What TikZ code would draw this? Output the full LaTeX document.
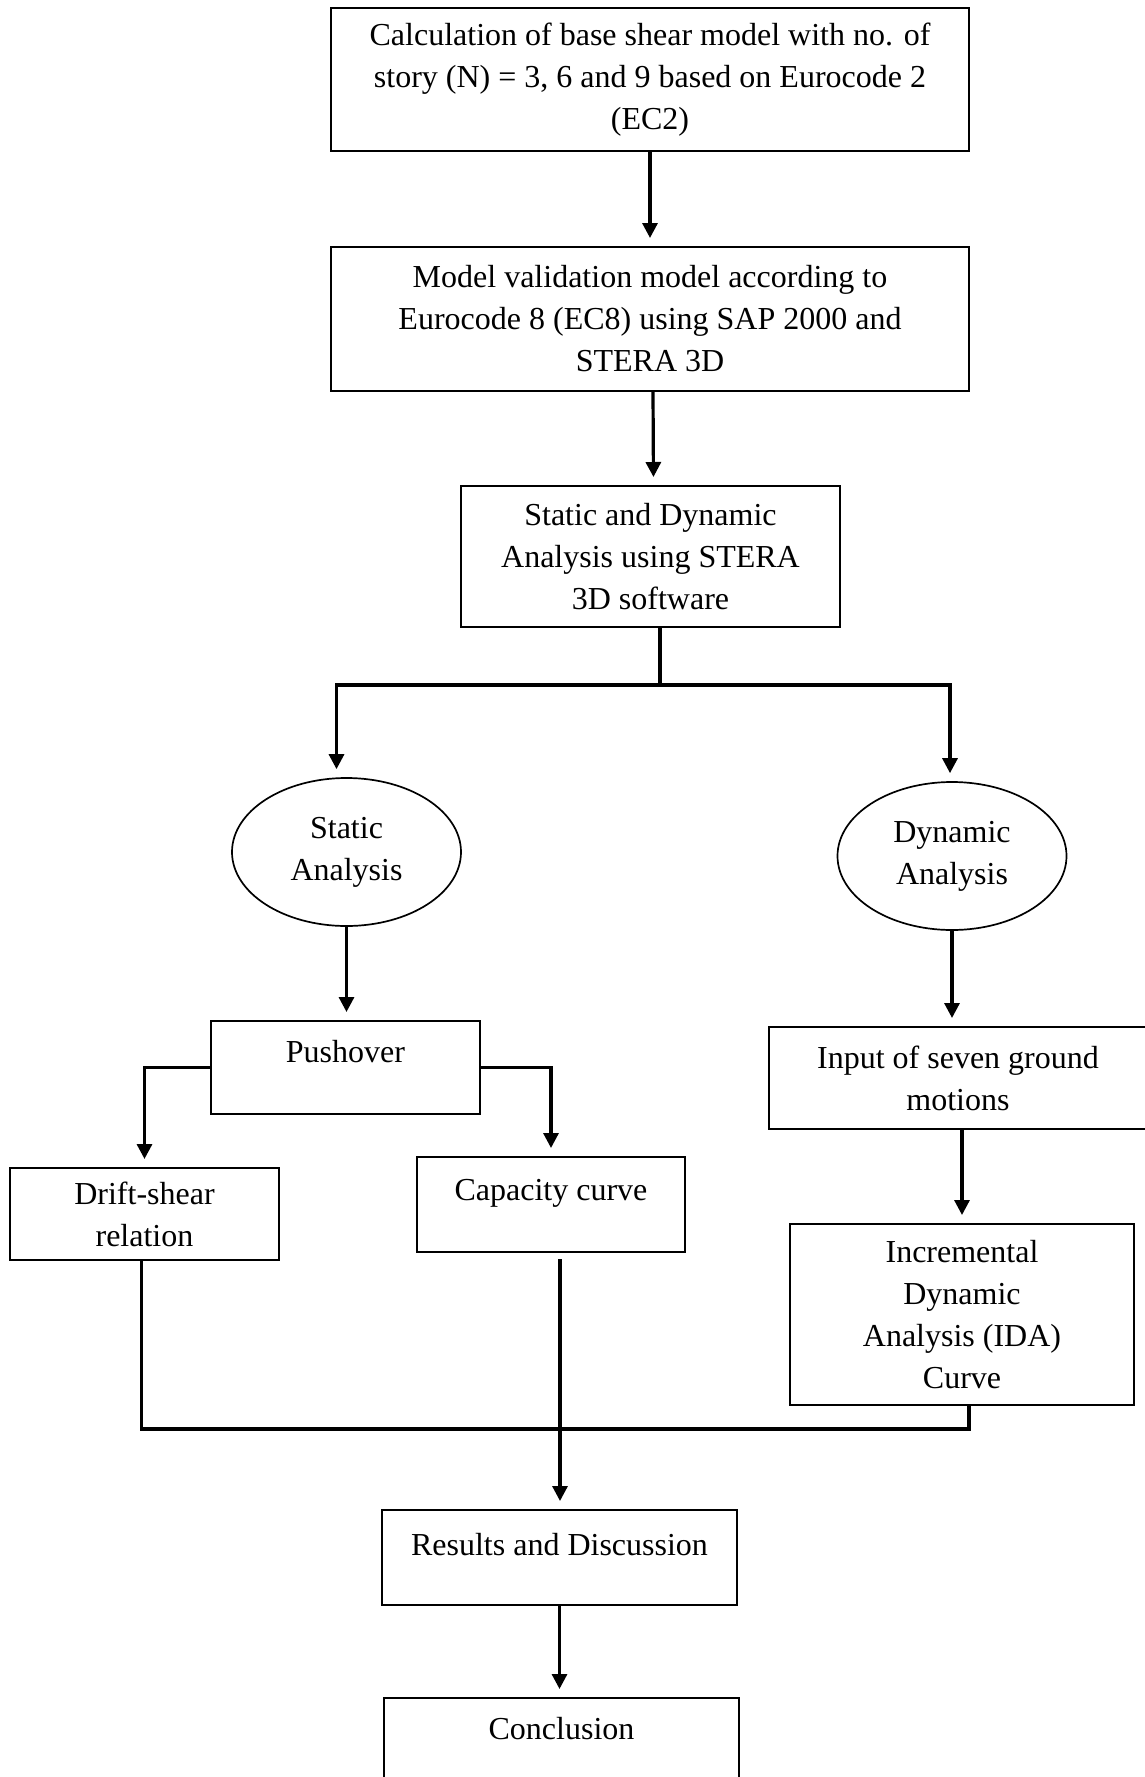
\documentclass[tikz,border=0pt]{standalone}
\usepackage{fontspec}
\setmainfont{Liberation Serif}
\usetikzlibrary{shapes.geometric,arrows.meta}
\begin{document}
\begin{tikzpicture}[x=0.5pt,y=-0.5pt,
  every node/.style={font=\fontsize{16}{21}\selectfont, align=center, inner sep=0pt},
  box/.style={draw, line width=1pt, rectangle},
  oval/.style={draw, line width=0.85pt, ellipse},
  arr/.style={line width=1.6pt, -{Triangle[length=7.5pt,width=7.5pt]}, shorten >=4pt},
  link/.style={line width=1.6pt},
  merge/.style={line width=1.8pt}]
\clip (0,0) rectangle (1145,1777);
\fill[white] (0,0) rectangle (1145,1777);
% boxes
\node[box, minimum width=319pt, minimum height=71.5pt] (b1) at (650,79.5)
  {Calculation of base shear model with no. of\\ story (N) = 3, 6 and 9 based on Eurocode 2\\ (EC2)};
\node[box, minimum width=319pt, minimum height=72pt] (b2) at (650,319)
  {Model validation model according to\\ Eurocode 8 (EC8) using SAP 2000 and\\ STERA 3D};
\node[box, minimum width=189.5pt, minimum height=70.5pt] (b3) at (650.5,556.5)
  {Static and Dynamic\\ Analysis using STERA\\ 3D software};
\node[oval, minimum width=114.5pt, minimum height=74pt] (stat) at (346.5,852) {Static\\ Analysis};
\node[oval, minimum width=114.5pt, minimum height=74pt] (dyn) at (952,856) {Dynamic\\ Analysis};
\node[box, minimum width=134.5pt, minimum height=46.5pt] (push) at (345.5,1067.5) {Pushover\\[-5pt]~};
\node[box, minimum width=134.5pt, minimum height=46pt] (drift) at (144.5,1214) {Drift-shear\\ relation};
\node[box, minimum width=134pt, minimum height=47.5pt] (cap) at (551,1204.5) {Capacity curve\\[-6pt]~};
\node[box, minimum width=189pt, minimum height=51pt] (input) at (958,1078) {Input of seven ground\\ motions};
\node[box, minimum width=172pt, minimum height=90.5pt] (ida) at (962,1314.5)
  {Incremental\\ Dynamic\\ Analysis (IDA)\\ Curve};
\node[box, minimum width=177.5pt, minimum height=47.5pt] (res) at (559.5,1557.5) {Results and Discussion\\[-8pt]~};
\node[box, minimum width=177.5pt, minimum height=46.5pt] (conc) at (561.5,1744.5) {Conclusion\\[-5pt]~};
% connectors
\coordinate (j) at (660,685);
\coordinate (m) at (560,1429);
\draw[arr] (b1.south) -- (b2.north);
\draw[arr] ([xshift=1.5pt]b2.south) -- ([xshift=1.5pt]b3.north);
\draw[link] (b3.south -| j) -- (j);
\draw[arr] (j) -| ([xshift=-5pt]stat.north);
\draw[arr] (j) -| ([xshift=-1pt]dyn.north);
\draw[arr] (stat.south) -- (stat.south |- push.north);
\draw[arr] (push.west) -| (drift.north);
\draw[arr] (push.east) -| (cap.north);
\draw[arr] (dyn.south) -- (dyn.south |- input.north);
\draw[arr] (ida.north |- input.south) -- (ida.north);
\draw[merge] ([xshift=-1.5pt]drift.south) |- (m);
\draw[merge] ([xshift=3.5pt]ida.south) |- (m);
\draw[arr] ([yshift=-3pt]cap.south -| m) -- (m |- res.north);
\draw[arr] (res.south) -- (res.south |- conc.north);
\end{tikzpicture}
\end{document}
